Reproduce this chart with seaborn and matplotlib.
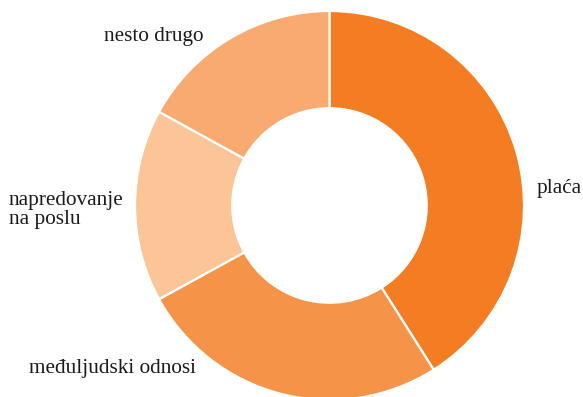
import matplotlib
matplotlib.use("Agg")
import matplotlib.pyplot as plt
import seaborn as sns

# Share of answers per category
categories = ["plaća", "međuljudski odnosi", "napredovanje\nna poslu", "nesto drugo"]
values = [41, 26, 16, 17]
colors = ["#F47C22", "#F59449", "#FCC598", "#F8AA70"]

sns.set_theme(style="white")
plt.rcParams["font.family"] = ["Liberation Serif", "DejaVu Serif"]
palette = sns.color_palette(colors)

W, H = 583, 397
fig = plt.figure(figsize=(W / 100, H / 100), dpi=100)
ax = fig.add_axes([0, 0, 1, 1])

cx, cy, R = 329.5, -205.5, 194.5
ax.pie(values, colors=palette, startangle=90, counterclock=False,
       center=(cx, cy), radius=R, frame=True,
       wedgeprops=dict(width=R * 0.5, edgecolor="white", linewidth=1.6))
ax.set_xlim(0, W)
ax.set_ylim(-H, 0)
ax.set_aspect("equal")
ax.axis("off")

txt = dict(fontsize=15.3, color="#1E1A1B")
ax.text(203, -36, categories[3], ha="right", va="center", **txt)
ax.text(537, -188, categories[0], ha="left", va="center", **txt)
ax.text(9, -210, categories[2], ha="left", va="center", linespacing=0.93, **txt)
ax.text(29, -368, categories[1], ha="left", va="center", **txt)

fig.savefig("out.png", dpi=100)
